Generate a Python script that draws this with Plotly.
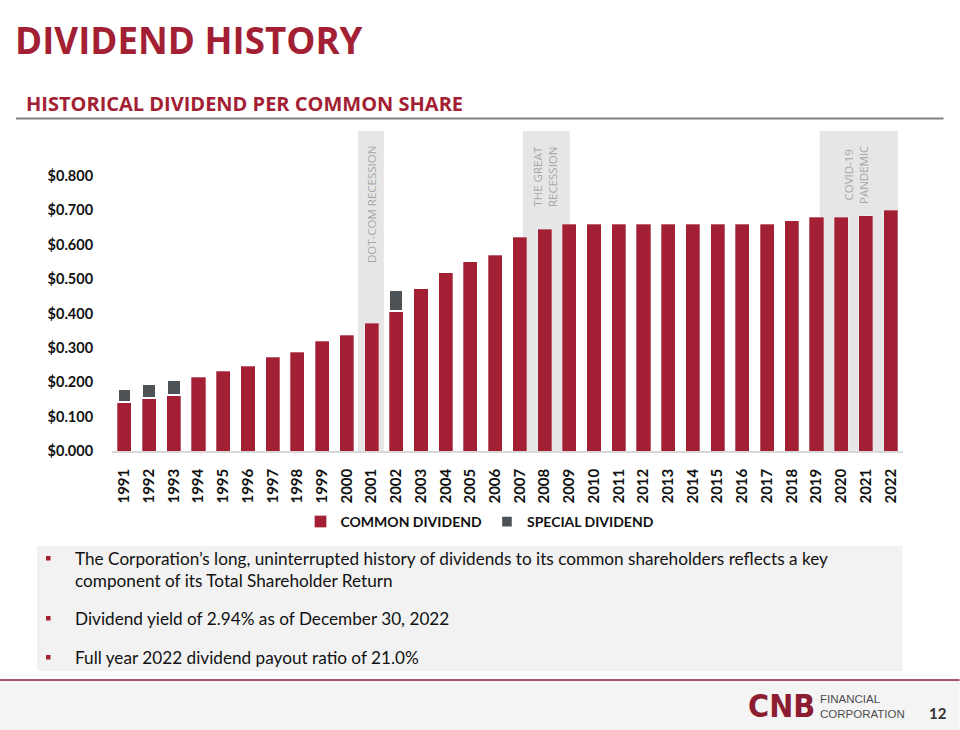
import plotly.graph_objects as go

# ---------------- data ----------------
years = list(range(1991, 2023))
year_labels = [str(y) for y in years]
common_dividend = [0.143, 0.155, 0.163, 0.215, 0.232, 0.247, 0.273, 0.287, 0.319, 0.337,
                   0.371, 0.407, 0.472, 0.518, 0.550, 0.570, 0.622, 0.645, 0.660, 0.660,
                   0.660, 0.660, 0.660, 0.660, 0.660, 0.660, 0.660, 0.670, 0.680, 0.680,
                   0.685, 0.700]
special_dividend = [0.037, 0.040, 0.043, None, None, None, None, None, None, None,
                    None, 0.061, None, None, None, None, None, None, None, None,
                    None, None, None, None, None, None, None, None, None, None,
                    None, None]
y_ticks = [0.0, 0.1, 0.2, 0.3, 0.4, 0.5, 0.6, 0.7, 0.8]
y_tick_labels = ["$%.3f" % v for v in y_ticks]

recession_names = ["DOT-COM RECESSION", "THE GREAT<br>RECESSION", "COVID-19<br>PANDEMIC"]
recession_start = [2000.45, 2007.12, 2019.13]
recession_end = [2001.50, 2009.02, 2022.29]
recession_label_x = [2001.0, 2008.0, 2020.6]

bullets = [
    "The Corporation\u2019s long, uninterrupted history of dividends to its common shareholders reflects a key<br>component of its Total Shareholder Return",
    "Dividend yield of 2.94% as of December 30, 2022",
    "Full year 2022 dividend payout ratio of 21.0%",
]

# ---------------- style ----------------
RED = "#a31f34"
GREY = "#4d5257"
W, H = 960, 730
L, R, T, B = 112, 903.4, 131, 451   # plot area in pixels


def px(x):
    return (x - L) / (R - L)


def py(y):
    return (B - y) / (B - T)


fig = go.Figure()
fig.add_trace(go.Bar(
    x=years, y=common_dividend, name="COMMON DIVIDEND",
    marker=dict(color=RED, line=dict(color="rgba(255,255,255,0.5)", width=0.6)),
    width=0.57,
))
fig.add_trace(go.Bar(
    x=years, y=special_dividend, name="SPECIAL DIVIDEND",
    marker=dict(color=GREY, line=dict(color="white", width=2.4)),
    width=0.57,
))

shapes = []
annotations = []
for name, x0, x1, lx in zip(recession_names, recession_start, recession_end, recession_label_x):
    shapes.append(dict(type="rect", xref="x", yref="paper", x0=x0, x1=x1, y0=0, y1=1,
                       fillcolor="#e6e6e6", line=dict(width=0), layer="below"))
    annotations.append(dict(xref="x", yref="paper", x=lx, y=py(144), xanchor="center",
                            yanchor="top", text=name, textangle=-90, showarrow=False,
                            align="center",
                            font=dict(family="Open Sans", size=11.5, color="#a6a6a6")))

# header rule
shapes.append(dict(type="line", xref="paper", yref="paper", x0=px(16), x1=px(944),
                   y0=py(118.5), y1=py(118.5), line=dict(color="#808080", width=2)))
# bullet box
shapes.append(dict(type="rect", xref="paper", yref="paper", x0=px(37), x1=px(903),
                   y0=py(671), y1=py(546), fillcolor="#f2f2f2", line=dict(width=0),
                   layer="below"))
# footer
shapes.append(dict(type="rect", xref="paper", yref="paper", x0=px(0), x1=px(960),
                   y0=py(730), y1=py(680), fillcolor="#f4f4f4", line=dict(width=0),
                   layer="below"))
shapes.append(dict(type="line", xref="paper", yref="paper", x0=px(0), x1=px(960),
                   y0=py(680), y1=py(680), line=dict(color="#8c1c32", width=1.5)))

bullet_y = [558, 618, 657]
for txt, by in zip(bullets, bullet_y):
    shapes.append(dict(type="rect", xref="paper", yref="paper", x0=px(46), x1=px(50.5),
                       y0=py(by + 2.5), y1=py(by - 2), fillcolor=RED, line=dict(width=0)))
    annotations.append(dict(xref="paper", yref="paper", x=px(73), y=py(by - 12),
                            xanchor="left", yanchor="top", text=txt, showarrow=False,
                            align="left",
                            font=dict(family="Lato", size=17.2, color="#111111")))

# titles
annotations.append(dict(xref="paper", yref="paper", x=px(13), y=py(40), xanchor="left",
                        yanchor="middle", text="<b>DIVIDEND HISTORY</b>", showarrow=False,
                        font=dict(family="Open Sans", size=36.7, color=RED)))
annotations.append(dict(xref="paper", yref="paper", x=px(24), y=py(103.5), xanchor="left",
                        yanchor="middle", text="<b>HISTORICAL DIVIDEND PER COMMON SHARE</b>",
                        showarrow=False,
                        font=dict(family="Open Sans", size=20, color=RED)))

# logo + page number
annotations.append(dict(xref="paper", yref="paper", x=px(746), y=py(706), xanchor="left",
                        yanchor="middle", text="<b>CNB</b>", showarrow=False,
                        font=dict(family="DejaVu Sans Condensed", size=32, color="#8c1c32")))
annotations.append(dict(xref="paper", yref="paper", x=px(818), y=py(706), xanchor="left",
                        yanchor="middle", text="FINANCIAL<br>CORPORATION", showarrow=False,
                        align="left",
                        font=dict(family="Liberation Sans", size=11.5, color="#4d4d4d")))
annotations.append(dict(xref="paper", yref="paper", x=px(949), y=py(713), xanchor="right",
                        yanchor="middle", text="<b>12</b>", showarrow=False,
                        font=dict(family="Lato", size=15, color="#333333")))

fig.update_layout(
    width=W, height=H,
    margin=dict(l=L, r=W - R, t=T, b=H - B, pad=0, autoexpand=False),
    paper_bgcolor="white", plot_bgcolor="rgba(0,0,0,0)",
    barmode="stack", bargap=0.43,
    showlegend=True,
    legend=dict(orientation="h", xref="container", yref="container", x=0.5, y=1 - 522 / H,
                xanchor="center", yanchor="middle",
                font=dict(family="Lato", size=14, color="#111111", weight="bold"),
                itemwidth=30, traceorder="normal"),
    shapes=shapes, annotations=annotations,
    xaxis=dict(range=[1990.5, 2022.5], tickmode="array", tickvals=years, ticktext=year_labels,
               tickangle=-90, showgrid=False, zeroline=False, showline=True,
               linecolor="#d9d9d9", linewidth=1.5, ticks="outside", ticklen=10,
               tickcolor="rgba(0,0,0,0)", automargin=False,
               tickfont=dict(family="Lato", size=15, color="#111111", weight="bold")),
    yaxis=dict(range=[0, (B - T) / 343.75], tickmode="array", tickvals=y_ticks,
               ticktext=y_tick_labels, showgrid=False, zeroline=False, showline=False,
               ticks="outside", ticklen=15, tickcolor="rgba(0,0,0,0)", automargin=False,
               tickfont=dict(family="Lato", size=14.5, color="#111111", weight="bold")),
)

post = (
    "document.documentElement.style.margin='0';"
    "document.documentElement.style.overflow='hidden';"
    "document.body.style.margin='0';"
    "document.body.style.overflow='hidden';"
    "var gd=document.getElementById('{plot_id}');"
    "gd.style.position='absolute';gd.style.left='0px';gd.style.top='0px';"
)

fig.write_html("out.html", config={"displayModeBar": False}, post_script=post)
